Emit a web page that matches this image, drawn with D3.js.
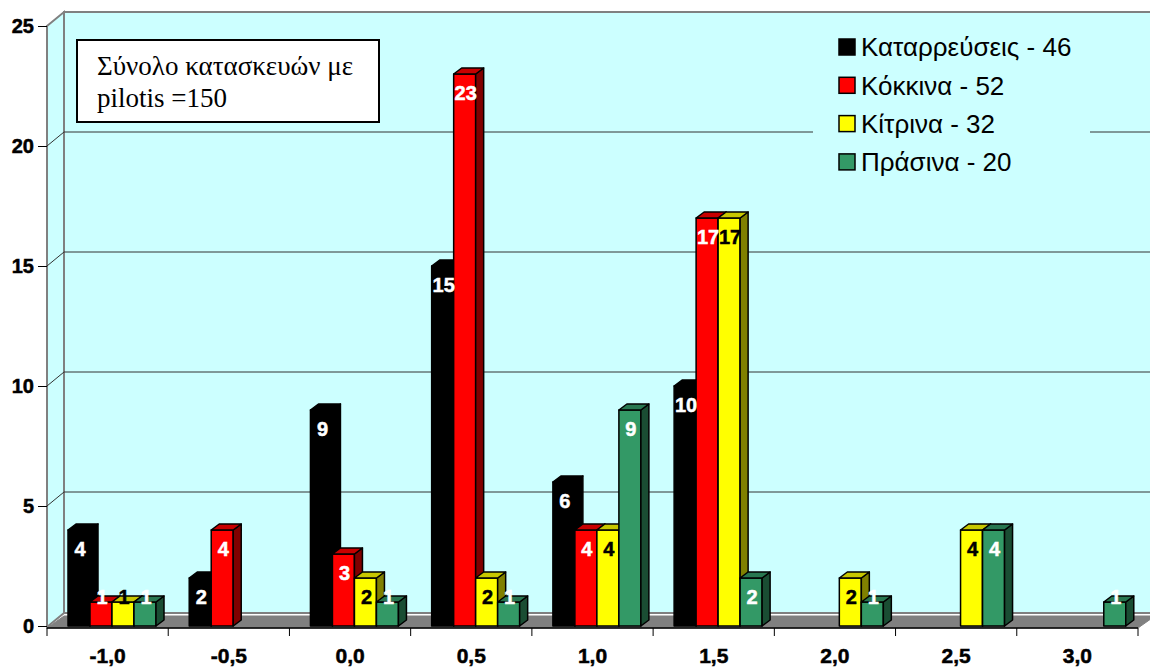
<!DOCTYPE html>
<html>
<head>
<meta charset="utf-8">
<script src="https://cdn.jsdelivr.net/npm/d3@7"></script>
<style>
  html, body { margin: 0; padding: 0; background: #fff; }
  svg { display: block; }
</style>
</head>
<body>
<svg id="chart" width="1150" height="668"></svg>
<script>
// Categories along the horizontal axis
const categories = ["-1,0", "-0,5", "0,0", "0,5", "1,0", "1,5", "2,0", "2,5", "3,0"];
// Series values per category
const collapses = [4, 2, 9, 15, 6, 10, 0, 0, 0];
const reds      = [1, 4, 3, 23, 4, 17, 0, 0, 0];
const yellows   = [1, 0, 2, 2, 4, 17, 2, 4, 0];
const greens    = [1, 0, 1, 1, 9, 2, 1, 4, 1];
const seriesNames = ["Καταρρεύσεις - 46", "Κόκκινα - 52", "Κίτρινα - 32", "Πράσινα - 20"];
const seriesColors = ["#000000", "#FF0000", "#FFFF00", "#339966"];
const labelColors = ["#FFFFFF", "#FFFFFF", "#000000", "#FFFFFF"];
const yTicks = [0, 5, 10, 15, 20, 25];
const noteLines = ["Σύνολο κατασκευών με", "pilotis =150"];

const seriesValues = [collapses, reds, yellows, greens];

const svg = d3.select("#chart");
const sans = "Liberation Sans, Arial, sans-serif";

// Front plane scales
const x = d3.scaleBand().domain(categories).range([47, 1138]).padding(0);
const y = d3.scaleLinear().domain([0, 25]).range([626, 26]);
const x1 = d3.scaleBand().domain(d3.range(seriesNames.length)).range([21, 109]).padding(0);

// depth offsets: walls/floor and bars
const wdx = 17, wdy = -14;
const bdx = 8, bdy = -6;
const wallFill = "#CCFFFF";
const edge = "#808080";

const y0 = y(0);
const yTop = y(25);
const xL = x.range()[0], xR = x.range()[1];

// back wall
svg.append("rect")
  .attr("x", xL + wdx).attr("y", yTop + wdy)
  .attr("width", 1150 - (xL + wdx) + 20).attr("height", (y0 + 1 + wdy) - (yTop + wdy))
  .attr("fill", wallFill).attr("stroke", edge).attr("stroke-width", 2);

// side wall
svg.append("polygon")
  .attr("points", [[xL, yTop], [xL + wdx, yTop + wdy], [xL + wdx, y0 + 1 + wdy], [xL, y0 + 1]].join(" "))
  .attr("fill", wallFill).attr("stroke", edge).attr("stroke-width", 2);

// gridlines on walls
const grid = svg.append("g");
yTicks.filter(v => v > 0 && v < 25).forEach(v => {
  grid.append("line")
    .attr("x1", xL + wdx).attr("x2", 1150)
    .attr("y1", y(v) + wdy).attr("y2", y(v) + wdy)
    .attr("stroke", "#333").attr("stroke-width", 1);
  grid.append("line")
    .attr("x1", xL).attr("x2", xL + wdx)
    .attr("y1", y(v)).attr("y2", y(v) + wdy)
    .attr("stroke", "#333").attr("stroke-width", 1);
});

// floor
svg.append("polygon")
  .attr("points", [[xL, y0 + 2], [xR, y0 + 2], [xR + wdx, y0 + 2 + wdy + 2], [xL + wdx, y0 + 2 + wdy + 2]].join(" "))
  .attr("fill", "#808080").attr("stroke", "#808080").attr("stroke-width", 1);

// legend
const legend = svg.append("g");
legend.append("rect")
  .attr("x", 813).attr("y", 22).attr("width", 277).attr("height", 163)
  .attr("fill", wallFill);
seriesNames.forEach((name, i) => {
  const cy = 47 + i * 38.3;
  legend.append("rect")
    .attr("x", 839).attr("y", cy - 8).attr("width", 16).attr("height", 16)
    .attr("fill", seriesColors[i]).attr("stroke", "#000").attr("stroke-width", 1.5);
  legend.append("text")
    .attr("x", 861).attr("y", cy).attr("dy", "0.36em")
    .attr("font-family", sans)
    .attr("font-size", 26)
    .attr("fill", "#000")
    .text(name);
});

// bars
const darken = (c, k) => { const r = d3.rgb(c); return d3.rgb(r.r * k, r.g * k, r.b * k).toString(); };
const bars = svg.append("g");
const labels = [];
categories.forEach((cat, ci) => {
  seriesValues.forEach((vals, si) => {
    const v = vals[ci];
    if (!v) return;
    const bx = x(cat) + x1(si);
    const bw = x1.bandwidth();
    const by = y(v);
    const c = seriesColors[si];
    const g = bars.append("g").attr("stroke", "#000").attr("stroke-width", 1.5).attr("stroke-linejoin", "round");
    // front
    g.append("rect").attr("x", bx).attr("y", by).attr("width", bw).attr("height", y0 - by).attr("fill", c);
    // side
    g.append("polygon")
      .attr("points", [[bx + bw, by], [bx + bw + bdx, by + bdy], [bx + bw + bdx, y0 + bdy], [bx + bw, y0]].join(" "))
      .attr("fill", darken(c, 0.5));
    // top
    g.append("polygon")
      .attr("points", [[bx, by], [bx + bdx, by + bdy], [bx + bw + bdx, by + bdy], [bx + bw, by]].join(" "))
      .attr("fill", darken(c, 0.78));
    labels.push({ x: bx + bw / 2 + 1, y: Math.min(by + 19, y0 - 29), text: v, color: labelColors[si] });
  });
});

svg.append("g").selectAll("text").data(labels).join("text")
  .attr("x", d => d.x).attr("y", d => d.y).attr("dy", "0.36em")
  .attr("text-anchor", "middle")
  .attr("font-family", sans)
  .attr("font-weight", "bold").attr("font-size", 20)
  .attr("fill", d => d.color)
  .attr("stroke", d => d.color).attr("stroke-width", 0.5)
  .text(d => d.text);

// y axis
const yAxis = svg.append("g").attr("transform", `translate(${xL},0)`)
  .call(d3.axisLeft(y).tickValues(yTicks).tickSize(9).tickPadding(4).tickFormat(d3.format("d")));
yAxis.select(".domain").remove();
yAxis.selectAll(".tick line").attr("stroke", "#000").attr("stroke-width", 1);
yAxis.selectAll(".tick text")
  .attr("font-family", sans)
  .attr("font-weight", "bold").attr("font-size", 20).attr("fill", "#000")
  .attr("stroke", "#000").attr("stroke-width", 0.5);

// x axis: labels at band centres, ticks at band edges
const xAxis = svg.append("g").attr("transform", `translate(0,655)`)
  .call(d3.axisBottom(x).tickSize(0).tickPadding(0));
xAxis.select(".domain").remove();
xAxis.selectAll(".tick text")
  .attr("y", 0).attr("dy", "0.36em")
  .attr("font-family", sans)
  .attr("font-weight", "bold").attr("font-size", 21).attr("fill", "#000")
  .attr("stroke", "#000").attr("stroke-width", 0.5);
svg.append("line").attr("x1", xL).attr("x2", xR).attr("y1", y0 + 2).attr("y2", y0 + 2)
  .attr("stroke", "#000").attr("stroke-width", 1.5);
const edges = categories.map(c => x(c)).concat([xR]);
svg.append("g").selectAll("line").data(edges).join("line")
  .attr("x1", d => d).attr("x2", d => d)
  .attr("y1", y0 + 2).attr("y2", y0 + 10)
  .attr("stroke", "#000").attr("stroke-width", 1);

// note box
const note = svg.append("g");
note.append("rect").attr("x", 77).attr("y", 40).attr("width", 302).attr("height", 82)
  .attr("fill", "#fff").attr("stroke", "#000").attr("stroke-width", 2);
note.selectAll("text").data(noteLines).join("text")
  .attr("x", 97).attr("y", (d, i) => 75 + i * 32)
  .attr("font-family", "Liberation Serif, Times New Roman, serif")
  .attr("font-size", 27).attr("fill", "#000")
  .text(d => d);
</script>
</body>
</html>
